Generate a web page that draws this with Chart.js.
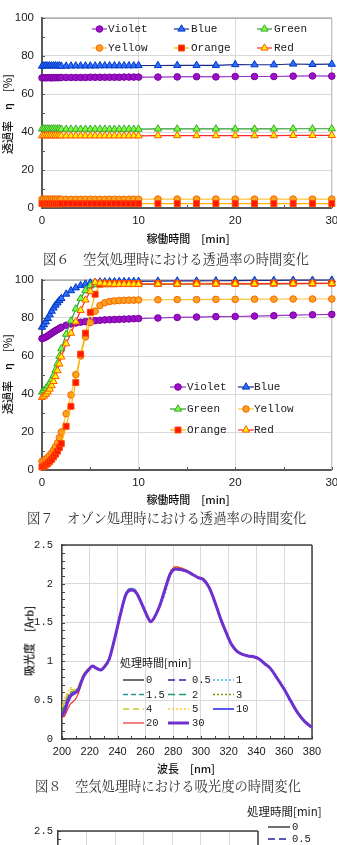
<!DOCTYPE html>
<html><head><meta charset="utf-8">
<script src="https://cdn.jsdelivr.net/npm/chart.js@4.4.0/dist/chart.umd.min.js"></script>
<style>
html,body{margin:0;padding:0;background:#fff;width:337px;height:845px;overflow:hidden;}
#wrap{position:relative;width:337px;height:845px;overflow:hidden;background:#fff;}
canvas{position:absolute;left:0;}
.t{position:absolute;white-space:nowrap;font-family:"Noto Sans CJK JP",sans-serif;color:#111;line-height:1;font-size:11px;font-weight:500;}
.cap{position:absolute;white-space:nowrap;font-family:"Noto Serif CJK JP","Noto Sans CJK JP",serif;font-size:13.3px;color:#333;line-height:1;transform:translateY(-50%);}
.ctr{transform:translate(-50%,-50%);}
.rot{transform:translate(-50%,-50%) rotate(-90deg);}
</style></head>
<body><div id="wrap">
<canvas id="c6" width="337" height="235" style="top:0px"></canvas>
<canvas id="c7" width="337" height="235" style="top:262px"></canvas>
<canvas id="c8" width="337" height="237" style="top:527px"></canvas>
<canvas id="c9" width="337" height="260" style="top:800px"></canvas>
<div class="t ctr" style="left:188px;top:238px">稼働時間　[min]</div>
<div class="t rot" style="left:7px;top:114px">透過率　η　[%]</div>
<div class="cap" style="left:43px;top:259px">図６　空気処理時における透過率の時間変化</div>
<div class="t ctr" style="left:188px;top:499px">稼働時間　[min]</div>
<div class="t rot" style="left:7px;top:374px">透過率　η　[%]</div>
<div class="cap" style="left:27px;top:518px">図７　オゾン処理時における透過率の時間変化</div>
<div class="t ctr" style="left:186px;top:768px">波長　[nm]</div>
<div class="t rot" style="left:29px;top:641px">吸光度　[Arb]</div>
<div class="cap" style="left:35px;top:786px">図８　空気処理時における吸光度の時間変化</div>
</div>
<script>
// ---------- data ----------
const seriesNames = ['Violet','Blue','Green','Yellow','Orange','Red'];
const times = [0,0.2,0.4,0.6,0.8,1,1.2,1.4,1.6,1.8,2,2.5,3,3.5,4,4.5,5,5.5,6,6.5,7,7.5,8,8.5,9,9.5,10,12,14,16,18,20,22,24,26,28,30];
const timeTicks = [0,10,20,30];
const transTicks = [0,20,40,60,80,100];

const f6Violet = [68.5,68.6,68.5,68.6,68.6,68.5,68.6,68.6,68.6,68.6,68.7,68.7,68.7,68.7,68.7,68.7,68.8,68.8,68.8,68.8,68.8,68.8,68.8,68.9,68.9,68.9,68.9,68.9,69.0,69.1,69.0,69.2,69.2,69.2,69.4,69.5,69.4];
const f6Blue   = [74.7,74.8,74.9,74.8,74.9,74.8,74.9,74.9,74.8,74.9,74.7,74.7,74.8,74.8,74.8,74.8,74.8,74.8,74.9,74.9,74.9,74.9,74.9,74.9,74.9,74.9,75.0,75.0,75.1,75.1,75.1,75.5,75.4,75.4,75.8,75.6,75.7];
const f6Green  = [41.6,41.7,41.6,41.7,41.6,41.6,41.7,41.6,41.6,41.7,41.5,41.5,41.5,41.5,41.5,41.5,41.5,41.5,41.5,41.5,41.5,41.5,41.5,41.5,41.5,41.5,41.5,41.6,41.6,41.6,41.6,41.6,41.6,41.6,41.7,41.7,41.7];
const f6Yellow = [4.6,4.7,4.6,4.7,4.6,4.7,4.6,4.7,4.6,4.7,4.6,4.6,4.6,4.6,4.6,4.6,4.6,4.6,4.6,4.6,4.6,4.6,4.6,4.6,4.6,4.6,4.6,4.7,4.7,4.7,4.7,4.7,4.7,4.7,4.7,4.7,4.7];
const f6Orange = [2.3,2.2,2.3,2.2,2.3,2.2,2.3,2.2,2.3,2.2,2.3,2.3,2.3,2.3,2.3,2.3,2.3,2.3,2.3,2.3,2.3,2.3,2.3,2.3,2.3,2.3,2.3,2.3,2.3,2.3,2.3,2.3,2.3,2.3,2.3,2.3,2.3];
const f6Red    = [38.0,38.1,38.0,38.1,38.0,38.1,38.0,38.1,38.0,38.1,38.0,38.0,38.0,38.0,38.0,38.0,38.0,38.0,38.0,38.0,38.0,38.0,38.0,38.0,38.0,38.0,38.0,38.1,38.1,38.1,38.1,38.1,38.1,38.1,38.2,38.2,38.2];

const f7Violet = [69.2,69.5,70.0,70.6,71.3,72.0,72.7,73.3,73.9,74.5,75.1,76.2,76.9,77.4,77.8,78.1,78.4,78.6,78.8,79.0,79.1,79.2,79.3,79.4,79.5,79.6,79.7,80.0,80.3,80.5,80.7,80.8,81.0,81.2,81.5,81.7,81.9];
const f7Blue   = [75.2,76.5,78.0,79.8,81.7,83.6,85.3,86.8,88.0,89.2,90.3,92.6,94.4,95.9,97.1,97.9,98.5,98.8,99.0,99.0,99.1,99.1,99.2,99.2,99.2,99.3,99.3,99.4,99.5,99.5,99.6,99.7,99.8,99.8,99.9,99.9,100];
const f7Green  = [41.0,41.8,42.9,44.2,45.8,47.6,49.8,52.6,56.0,59.8,63.8,71.5,78.5,84.8,90.3,94.5,97.0,97.5,97.6,97.7,97.7,97.7,97.7,97.7,97.7,97.7,97.8,97.8,97.8,97.9,97.9,98.0,98.0,98.0,98.1,98.1,98.2];
const f7Yellow = [4.6,5.0,5.7,6.6,7.7,9.0,10.5,12.2,14.2,17.0,20.0,29.6,39.5,50.2,60.0,70.0,77.6,83.6,86.6,88.0,88.7,89.0,89.2,89.3,89.4,89.4,89.5,89.6,89.7,89.7,89.8,89.8,89.9,89.9,90.0,90.0,90.0];
const f7Orange = [1.6,2.0,2.7,3.5,4.5,5.6,6.9,8.3,9.9,11.8,13.9,23.0,33.5,46.0,61.0,72.0,83.0,92.5,97.8,98.0,98.0,98.0,98.1,98.1,98.1,98.1,98.1,98.1,98.1,98.2,98.2,98.2,98.2,98.3,98.3,98.3,98.3];
const f7Red    = [38.2,38.9,39.9,41.1,42.6,44.4,46.6,49.2,52.3,55.8,59.5,66.5,72.0,78.0,84.0,89.5,94.0,98.8,98.4,98.0,97.9,97.8,97.8,97.8,97.8,97.8,97.8,97.9,97.9,97.9,98.0,98.0,98.0,98.1,98.1,98.2,98.2];

const absLabels = ['0','0.5','1','1.5','2','3','4','5','10','20','30'];
const wavelengths = [200,202,204,206,208,210,212,214,216,218,220,222,224,226,228,230,234,238,242,246,250,252,254,258,262,264,266,270,274,278,282,286,290,294,298,302,306,310,314,318,322,326,330,334,338,342,346,350,355,360,365,370,375,380];
const wlTicks = [200,220,240,260,280,300,320,340,360,380];
const absTicks = [0,0.5,1,1.5,2,2.5];
const abs0  = [0.33,0.40,0.50,0.56,0.58,0.61,0.66,0.75,0.83,0.87,0.91,0.94,0.92,0.90,0.89,0.92,1.03,1.30,1.60,1.86,1.92,1.91,1.87,1.72,1.56,1.51,1.55,1.70,1.92,2.14,2.20,2.18,2.16,2.12,2.08,2.05,1.95,1.77,1.56,1.38,1.22,1.13,1.09,1.07,1.06,1.03,0.97,0.91,0.78,0.64,0.48,0.33,0.22,0.15];
const abs05 = [0.35,0.44,0.53,0.57,0.59,0.62,0.67,0.76,0.83,0.88,0.91,0.94,0.92,0.90,0.89,0.92,1.03,1.30,1.60,1.87,1.93,1.93,1.88,1.72,1.56,1.51,1.55,1.70,1.92,2.13,2.19,2.18,2.16,2.12,2.08,2.05,1.95,1.77,1.56,1.38,1.22,1.13,1.09,1.07,1.06,1.03,0.97,0.91,0.78,0.64,0.48,0.33,0.22,0.15];
const abs1  = [0.34,0.42,0.52,0.58,0.60,0.62,0.66,0.76,0.84,0.88,0.91,0.94,0.92,0.90,0.89,0.92,1.03,1.30,1.61,1.88,1.94,1.93,1.88,1.72,1.56,1.51,1.55,1.69,1.86,2.10,2.18,2.18,2.16,2.12,2.08,2.05,1.95,1.77,1.56,1.38,1.22,1.13,1.09,1.07,1.06,1.03,0.97,0.91,0.78,0.64,0.48,0.33,0.22,0.15];
const abs15 = [0.32,0.40,0.50,0.57,0.60,0.62,0.66,0.75,0.83,0.87,0.91,0.94,0.92,0.90,0.89,0.92,1.03,1.30,1.61,1.88,1.94,1.92,1.88,1.72,1.56,1.51,1.55,1.70,1.91,2.13,2.19,2.18,2.16,2.12,2.08,2.05,1.95,1.77,1.56,1.38,1.22,1.13,1.09,1.07,1.06,1.03,0.97,0.91,0.78,0.64,0.48,0.33,0.22,0.15];
const abs2  = [0.34,0.43,0.52,0.58,0.61,0.63,0.67,0.76,0.84,0.88,0.91,0.94,0.92,0.90,0.89,0.92,1.03,1.30,1.60,1.87,1.93,1.92,1.87,1.72,1.56,1.51,1.55,1.70,1.92,2.13,2.19,2.18,2.16,2.12,2.08,2.05,1.95,1.77,1.56,1.38,1.22,1.13,1.09,1.07,1.06,1.03,0.97,0.91,0.78,0.64,0.48,0.33,0.22,0.15];
const abs3  = [0.36,0.45,0.55,0.60,0.62,0.63,0.67,0.77,0.84,0.88,0.91,0.94,0.92,0.90,0.89,0.92,1.03,1.30,1.60,1.86,1.92,1.91,1.87,1.72,1.56,1.51,1.55,1.70,1.92,2.14,2.20,2.19,2.16,2.12,2.08,2.05,1.95,1.77,1.56,1.38,1.22,1.13,1.09,1.07,1.06,1.03,0.97,0.91,0.78,0.64,0.48,0.33,0.22,0.15];
const abs4  = [0.40,0.50,0.58,0.64,0.63,0.62,0.68,0.78,0.85,0.89,0.91,0.94,0.92,0.90,0.89,0.92,1.03,1.30,1.60,1.86,1.92,1.91,1.87,1.72,1.56,1.51,1.55,1.70,1.92,2.15,2.21,2.20,2.17,2.13,2.09,2.06,1.95,1.77,1.56,1.38,1.22,1.13,1.09,1.07,1.06,1.03,0.97,0.91,0.78,0.64,0.48,0.33,0.22,0.15];
const abs5  = [0.42,0.52,0.60,0.66,0.65,0.63,0.68,0.78,0.85,0.89,0.91,0.94,0.92,0.90,0.89,0.92,1.03,1.30,1.60,1.86,1.92,1.91,1.87,1.72,1.56,1.51,1.55,1.70,1.92,2.16,2.22,2.21,2.17,2.13,2.09,2.07,1.96,1.77,1.56,1.38,1.22,1.13,1.09,1.07,1.06,1.03,0.97,0.91,0.78,0.64,0.48,0.33,0.22,0.15];
const abs10 = [0.31,0.38,0.50,0.57,0.59,0.61,0.65,0.75,0.83,0.87,0.91,0.94,0.92,0.90,0.89,0.92,1.03,1.30,1.60,1.86,1.92,1.91,1.87,1.72,1.56,1.51,1.55,1.70,1.92,2.13,2.19,2.18,2.16,2.12,2.08,2.05,1.95,1.77,1.56,1.38,1.22,1.13,1.09,1.07,1.06,1.03,0.97,0.91,0.78,0.64,0.48,0.33,0.22,0.15];
const abs20 = [0.28,0.30,0.38,0.45,0.48,0.52,0.60,0.72,0.82,0.87,0.91,0.94,0.92,0.90,0.89,0.92,1.03,1.30,1.60,1.86,1.92,1.91,1.87,1.72,1.56,1.51,1.55,1.70,1.92,2.15,2.22,2.20,2.17,2.12,2.08,2.06,1.95,1.77,1.56,1.38,1.22,1.13,1.09,1.07,1.06,1.03,0.97,0.91,0.78,0.64,0.48,0.33,0.22,0.15];
const abs30 = [0.30,0.36,0.47,0.55,0.58,0.60,0.64,0.74,0.82,0.87,0.91,0.94,0.92,0.90,0.89,0.92,1.03,1.30,1.60,1.86,1.92,1.91,1.87,1.72,1.56,1.51,1.55,1.70,1.92,2.13,2.19,2.18,2.16,2.12,2.08,2.05,1.95,1.77,1.56,1.38,1.22,1.13,1.09,1.07,1.06,1.03,0.97,0.91,0.78,0.64,0.48,0.33,0.22,0.15];
const fig9Labels = ['0','0.5','1','1.5','2','3','4','5','10','20','30'];
const fig9Ticks = [0,0.5,1,1.5,2,2.5];
const fig9WlTicks = [200,220,240,260,280,300,320,340];

// ---------- styles ----------
const transStyle = {
  Violet:{line:'#9A35C8', fill:'#9C10C8', border:'#7A00A0', style:'circle', r:3.3},
  Blue:  {line:'#1C2A8C', fill:'#2F6DFF', border:'#0038C0', style:'triangle', r:4.2},
  Green: {line:'#2E992E', fill:'#7CFF3A', border:'#34A834', style:'triangle', r:4.2},
  Yellow:{line:'#FFC23A', fill:'#FFA020', border:'#F06A00', style:'circle', r:3.3},
  Orange:{line:'#FFB300', fill:'#FF1800', border:'#FF4A00', style:'rect', r:4.2},
  Red:   {line:'#FF2A2A', fill:'#FFF200', border:'#FF5A00', style:'triangle', r:4.2}
};
const absStyle = [
  {c:'#222222', w:1.3, d:[]},
  {c:'#2424A8', w:1.5, d:[7,4]},
  {c:'#3CB4F0', w:1.5, d:[2,2]},
  {c:'#2A8C8C', w:1.5, d:[5,3]},
  {c:'#1FA060', w:1.5, d:[7,4]},
  {c:'#8C8C00', w:1.5, d:[2,2]},
  {c:'#C8C832', w:1.5, d:[6,4]},
  {c:'#FFC832', w:1.5, d:[2,2]},
  {c:'#5A5AF0', w:2, d:[]},
  {c:'#EE3030', w:1.2, d:[]},
  {c:'#7030D0', w:3, d:[]}
];

// ---------- plugins ----------
function drawMarker(ctx, style, x, y, r, fill, stroke){
  ctx.beginPath();
  if(style==='circle'){ ctx.arc(x,y,r,0,Math.PI*2); }
  else if(style==='triangle'){ ctx.moveTo(x,y-r); ctx.lineTo(x+r*0.866,y+r*0.5); ctx.lineTo(x-r*0.866,y+r*0.5); ctx.closePath(); }
  else { const s=r*Math.SQRT1_2; ctx.rect(x-s,y-s,2*s,2*s); }
  ctx.fillStyle=fill; ctx.fill(); ctx.lineWidth=1; ctx.strokeStyle=stroke; ctx.stroke();
}
const customLegend = {
  id:'customLegend',
  afterDraw(chart, args, o){
    if(!o || !o.rows) return;
    const ctx=chart.ctx; ctx.save();
    ctx.textBaseline='middle'; ctx.textAlign='left';
    if(o.title){ ctx.font=o.titleFont; ctx.fillStyle='#1a1a1a'; ctx.fillText(o.title,o.titleX,o.titleY); }
    const ds=chart.data.datasets;
    for(let i=0;i<ds.length;i++){
      const r=Math.floor(i/o.cols.length), c=i%o.cols.length;
      if(r>=o.rows.length) break;
      const y=o.rows[r], x0=o.cols[c], x1=x0+o.lineLen, d=ds[i];
      ctx.beginPath(); ctx.setLineDash(d.borderDash||[]); ctx.strokeStyle=d.borderColor; ctx.lineWidth=d.borderWidth;
      ctx.moveTo(x0,y); ctx.lineTo(x1,y); ctx.stroke(); ctx.setLineDash([]);
      if(d.pointRadius>0) drawMarker(ctx,d.pointStyle,(x0+x1)/2,y,d.pointRadius,d.pointBackgroundColor,d.pointBorderColor);
      ctx.font=o.font; ctx.fillStyle='#1a1a1a'; ctx.fillText(d.label,o.texts[c],y+0.5);
    }
    ctx.restore();
  }
};
const frame = {
  id:'frame',
  beforeDatasetsDraw(chart,args,o){
    if(!o || !o.top) return;
    const {ctx,chartArea:ca}=chart; ctx.save();
    ctx.lineWidth=o.topWidth; ctx.strokeStyle=o.top; ctx.beginPath(); ctx.moveTo(ca.left,ca.top); ctx.lineTo(ca.right,ca.top); ctx.stroke();
    ctx.lineWidth=o.rightWidth; ctx.strokeStyle=o.right; ctx.beginPath(); ctx.moveTo(ca.right,ca.top); ctx.lineTo(ca.right,ca.bottom); ctx.stroke();
    ctx.restore();
  }
};
const minorTicks = {
  id:'minorTicks',
  beforeDatasetsDraw(chart,args,o){
    if(!o || !o.x) return;
    const {ctx,chartArea:ca,scales:{x,y}}=chart; ctx.save();
    ctx.strokeStyle=o.color; ctx.lineWidth=1; ctx.beginPath();
    for(let v=x.min; v<=x.max+1e-9; v+=o.x){ const px=Math.round(x.getPixelForValue(v))+0.5; ctx.moveTo(px,ca.bottom); ctx.lineTo(px,ca.bottom-o.len); }
    for(let v=y.min; v<=y.max+1e-9; v+=o.y){ const py=Math.round(y.getPixelForValue(v))+0.5; ctx.moveTo(ca.left,py); ctx.lineTo(ca.left+o.len,py); }
    ctx.stroke(); ctx.restore();
  }
};

// ---------- builders ----------
function transChart(id, vals, legendCfg){
  return new Chart(document.getElementById(id), {
    type:'line',
    data:{ datasets: seriesNames.map((n,i)=>{ const s=transStyle[n]; return {
      label:n, data: times.map((t,k)=>({x:t,y:vals[i][k]})),
      borderColor:s.line, borderWidth:1.2, pointStyle:s.style, pointRadius:s.r,
      pointBackgroundColor:s.fill, pointBorderColor:s.border, pointBorderWidth:1,
      tension:0, clip:false, order: seriesNames.length-i }; }) },
    options:{
      responsive:false, animation:false, events:[],
      layout:{padding:{top:18,left:0,right:4,bottom:0}},
      plugins:{ legend:{display:false}, tooltip:{enabled:false},
        customLegend:legendCfg,
        frame:{top:'#8a8a8a',topWidth:1,right:'#b8b8b8',rightWidth:1},
        minorTicks:{x:5,y:10,len:3,color:'#595959'} },
      scales:{
        x:{ type:'linear', min:0, max:30,
          afterBuildTicks:s=>{ s.ticks=timeTicks.map(v=>({value:v})); },
          afterFit:s=>{ s.height=27; s.paddingLeft=0; s.paddingRight=0; },
          grid:{ color:'#d9d9d9', drawTicks:false },
          border:{display:true,color:'#595959',width:2},
          ticks:{ padding:6, maxRotation:0, autoSkip:false, callback:v=>String(v), font:{family:'"Liberation Sans", Arial',size:11.5}, color:'#1a1a1a' } },
        y:{ type:'linear', min:0, max:100,
          afterBuildTicks:s=>{ s.ticks=transTicks.map(v=>({value:v})); },
          afterFit:s=>{ s.width=42; s.paddingTop=0; s.paddingBottom=0; },
          grid:{ color:'#d9d9d9', drawTicks:false },
          border:{display:true,color:'#595959',width:2},
          ticks:{ padding:8, callback:v=>String(v), font:{family:'"Liberation Sans", Arial',size:11.5}, color:'#1a1a1a' } }
      }
    },
    plugins:[frame, minorTicks, customLegend]
  });
}

function absChart(id, labels, arrays, xTicks, yTicks, xMax, pad, yWidth, legendCfg){
  return new Chart(document.getElementById(id), {
    type:'line',
    data:{ datasets: labels.map((lab,i)=>{ const s=absStyle[i]; return {
      label:lab, data: arrays ? wavelengths.map((w,k)=>({x:w,y:arrays[i][k]})) : [],
      borderColor:s.c, borderWidth:s.w, borderDash:s.d, pointRadius:0,
      cubicInterpolationMode:'monotone', order: labels.length-i }; }) },
    options:{
      responsive:false, animation:false, events:[],
      layout:{padding:pad},
      plugins:{ legend:{display:false}, tooltip:{enabled:false},
        customLegend:legendCfg,
        frame:{top:'#404040',topWidth:1.5,right:'#404040',rightWidth:1.5},
        minorTicks:{x:10,y:0.1,len:3,color:'#404040'} },
      scales:{
        x:{ type:'linear', min:200, max:xMax,
          afterBuildTicks:s=>{ s.ticks=xTicks.map(v=>({value:v})); },
          afterFit:s=>{ s.height=25; s.paddingLeft=0; s.paddingRight=0; },
          grid:{ color:'#d9d9d9', drawTicks:false },
          border:{display:true,color:'#404040',width:1.5},
          ticks:{ padding:6, maxRotation:0, autoSkip:false, callback:v=>String(v), font:{family:'"Liberation Sans", Arial',size:11}, color:'#1a1a1a' } },
        y:{ type:'linear', min:0, max:2.5,
          afterBuildTicks:s=>{ s.ticks=yTicks.map(v=>({value:v})); },
          afterFit:s=>{ s.width=yWidth; s.paddingTop=0; s.paddingBottom=0; },
          grid:{ color:'#d9d9d9', drawTicks:false },
          border:{display:true,color:'#404040',width:1.5},
          ticks:{ padding:yWidth-53, callback:v=>String(v), font:{family:'"Liberation Mono", monospace',size:10.5}, color:'#1a1a1a' } }
      }
    },
    plugins:[frame, minorTicks, customLegend]
  });
}

transChart('c6', [f6Violet,f6Blue,f6Green,f6Yellow,f6Orange,f6Red],
  {rows:[29,48], cols:[92,174,257], texts:[108,191,274], lineLen:15, font:'11px "Liberation Mono", monospace'});
transChart('c7', [f7Violet,f7Blue,f7Green,f7Yellow,f7Orange,f7Red],
  {rows:[125,147,168], cols:[170,238], texts:[187,254], lineLen:16, font:'11px "Liberation Mono", monospace'});
absChart('c8', absLabels, [abs0,abs05,abs1,abs15,abs2,abs3,abs4,abs5,abs10,abs20,abs30], wlTicks, absTicks, 380,
  {top:18,left:0,right:25,bottom:0}, 62,
  {title:'処理時間[min]', titleX:120, titleY:136, titleFont:'11px "Noto Sans CJK JP", sans-serif',
   rows:[153,167.5,182,196], cols:[123,168,213], texts:[146,192,236], lineLen:21, font:'10.5px "Liberation Mono", monospace'});
absChart('c9', fig9Labels, null, fig9WlTicks, fig9Ticks, 340,
  {top:31,left:0,right:79,bottom:0}, 58,
  {title:'処理時間[min]', titleX:247, titleY:12, titleFont:'11.5px "Noto Sans CJK JP", sans-serif',
   rows:[27,39,51,63,75,87,99,111,123,135,147], cols:[268], texts:[292], lineLen:22, font:'10.5px "Liberation Mono", monospace'});
</script>
</body></html>
